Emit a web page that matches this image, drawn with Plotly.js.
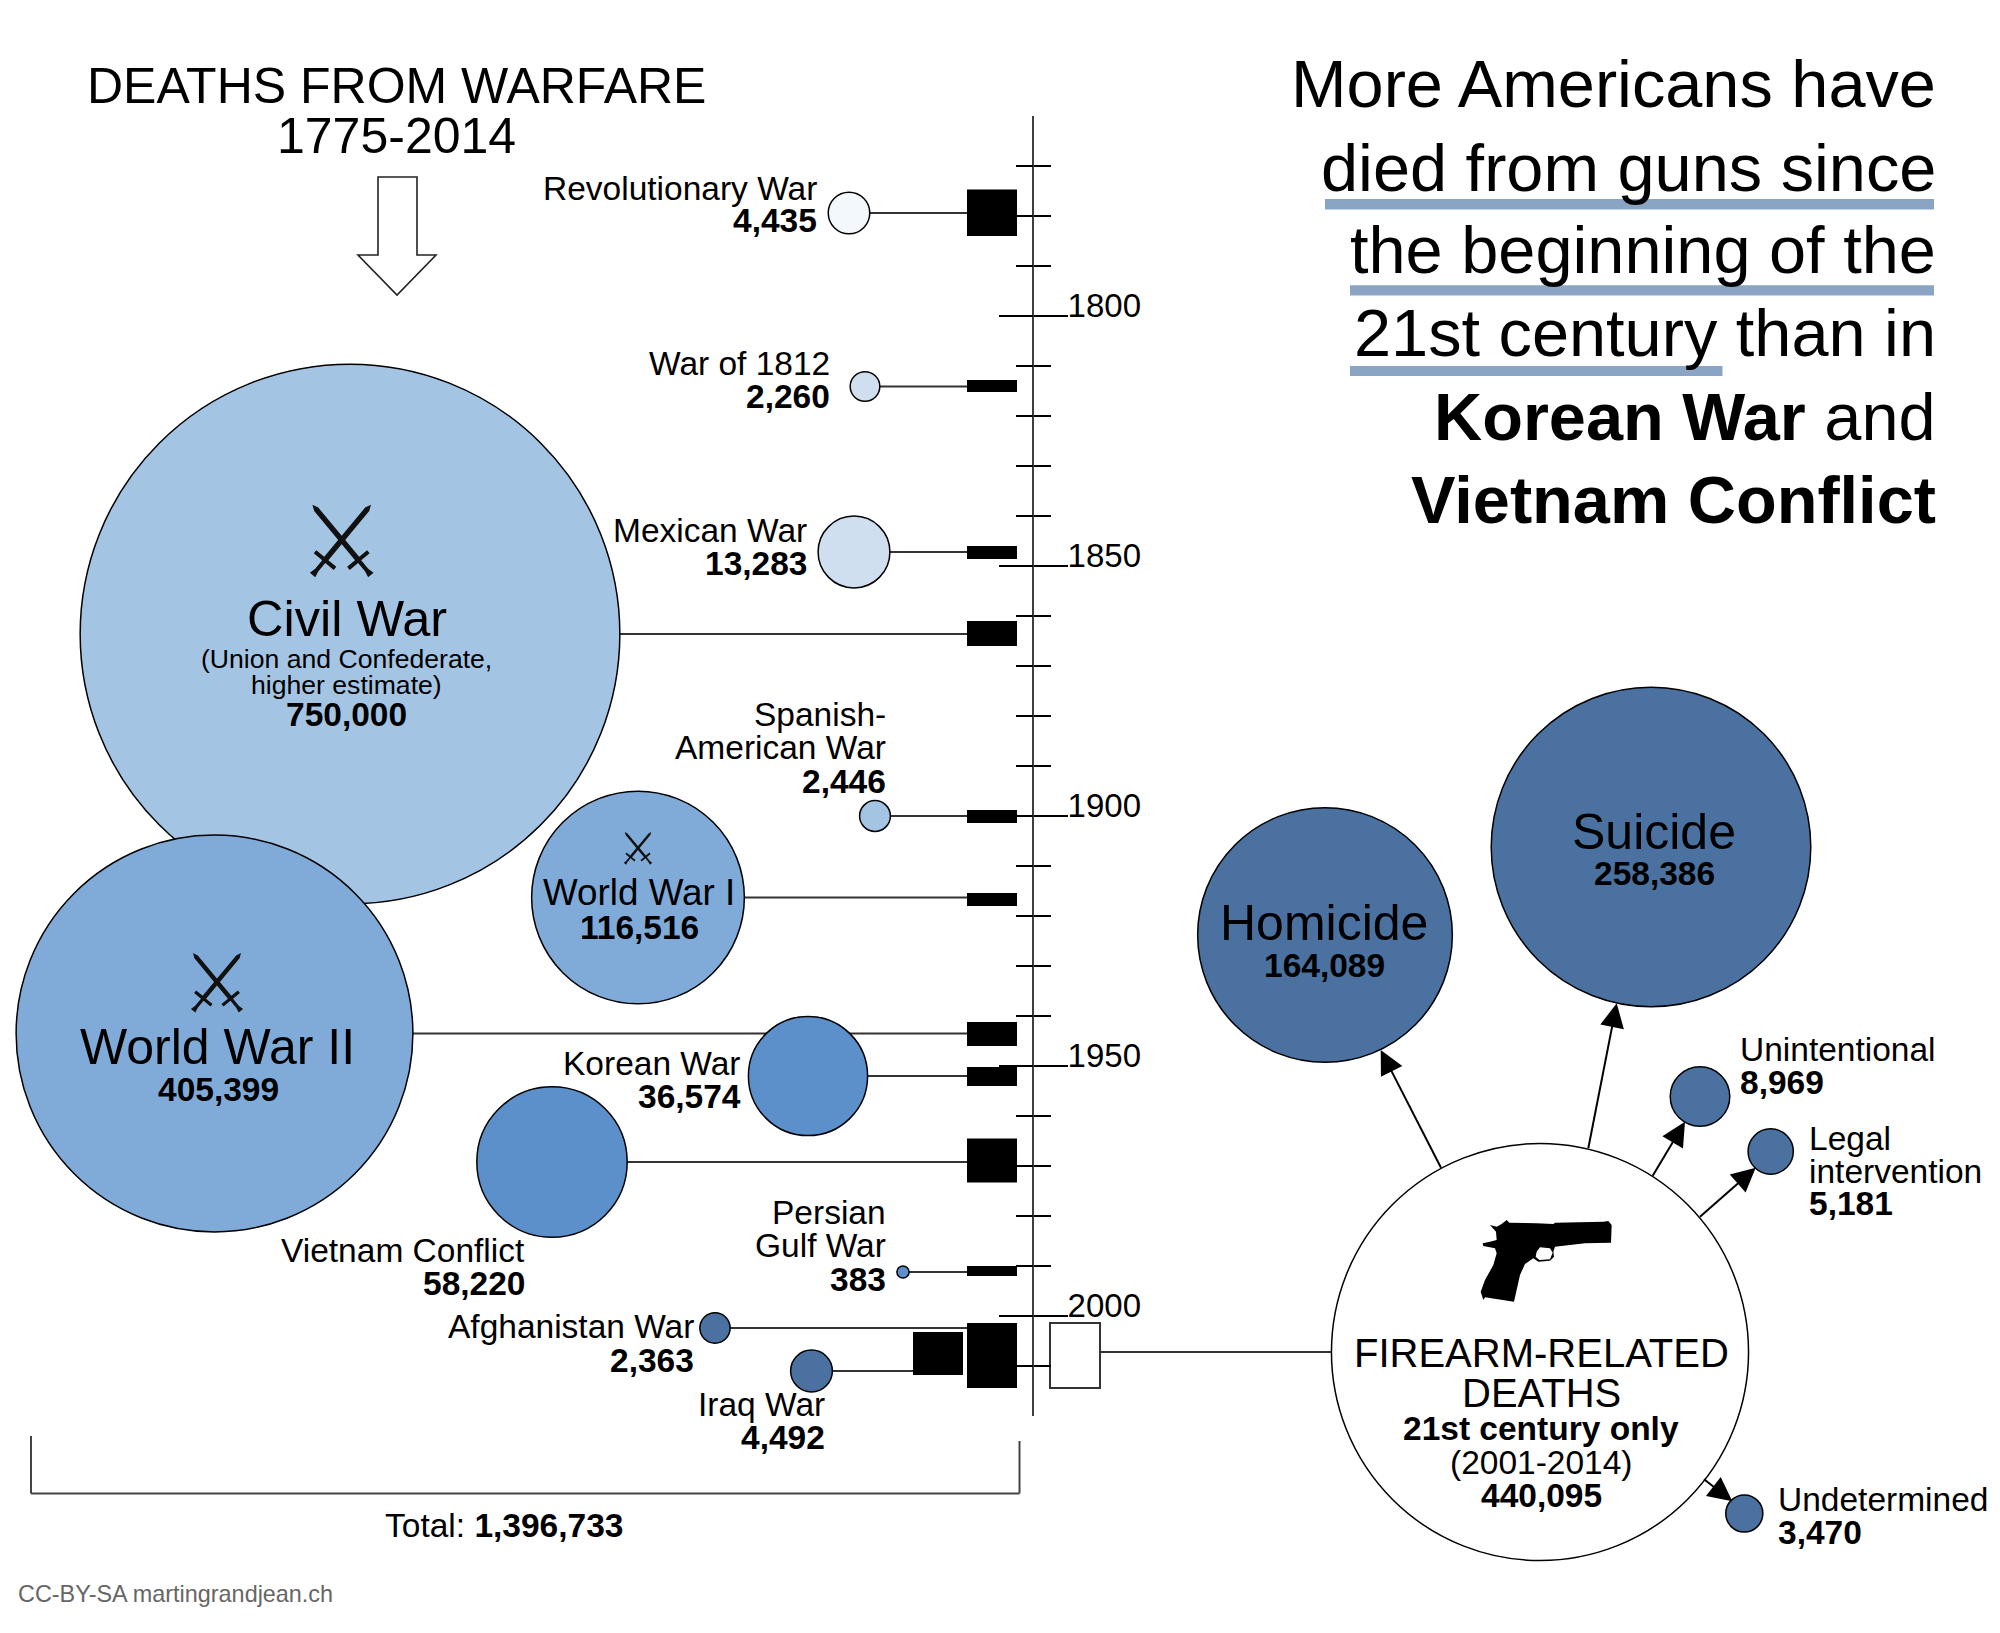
<!DOCTYPE html>
<html><head><meta charset="utf-8">
<script src="https://cdn.plot.ly/plotly-3.0.1.min.js"></script>
<style>html,body{margin:0;padding:0;background:#fff}#chart{width:2000px;height:1633px}</style>
</head><body><div id="chart"></div>
<script>
// ---------- DATA ----------
const warNames = ["Revolutionary War","War of 1812","Mexican War","Civil War","Spanish-American War","World War I","World War II","Korean War","Vietnam Conflict","Persian Gulf War","Afghanistan War","Iraq War"];
const warDeaths = [4435,2260,13283,750000,2446,116516,405399,36574,58220,383,2363,4492];
const warStart = [1774.7,1812.8,1846,1861,1898.8,1915.4,1941.2,1950.2,1964.5,1990,2001.4,2003.2];
const warEnd   = [1784,1815.2,1848.6,1866,1901.4,1918,1946,1954,1973.3,1992,2014.4,2011.8];
const firearmCauses = ["Homicide","Suicide","Unintentional","Legal intervention","Undetermined"];
const firearmDeaths = [164089,258386,8969,5181,3470];
const firearmTotal = 440095;
const firearmStart = 2001.4, firearmEnd = 2014.4;
const warTotal = 1396733;
const majorYears = [1800,1850,1900,1950,2000];
const minorYears = [1770,1780,1790,1810,1820,1830,1840,1860,1870,1880,1890,1910,1920,1930,1940,1960,1970,1980,1990,2010];

// ---------- LAYOUT OF THE DIAGRAM ----------
const W = 2000, H = 1633;
const yearRange = [2063.4,1736.8];            // pixel 1633 .. pixel 0
const warFill = ["#f3f8fc","#cfdff0","#cfdff0","#a4c4e4","#a4c4e4","#80abd8","#80abd8","#5c90cb","#5c90cb","#5c90cb","#4a719f","#4a719f"];
const warBubbleX = [849,865,854,350,875,638,214.5,808,552,903,715,811.5];
const warBubbleYear = [1779.4,1814.1,1847.2,1863.6,1900,1916.3,1943.5,1952,1969.2,1991.2,2002.4,2011];
const warBarX = [992,992,992,992,992,992,992,992,992,992,992,938];
const causeBubbleX = [1325,1651,1700,1770.7,1744.3];
const causeBubbleYear = [1923.8,1906.2,1956.1,1967.1,2039.5];
const hubX = 1540, hubYear = 2007.2;
const warSizeRef = 5.15, gunSizeRef = 5.06;

const fmt = v => v.toLocaleString('en-US');
const fy = p => 1 - p / H;

// ---------- TEXT ----------
const F = "Liberation Sans";
const S = 33.5;
const annotations = [];
function T(text, x, base, size, anchor, color){
  annotations.push({text, x: x / W, y: fy(base - 0.35 * size), xref:'paper', yref:'paper',
    xanchor: anchor || 'center', yanchor:'middle', showarrow:false, borderpad:0, borderwidth:0,
    font:{family:F, size, color: color || '#000'}});
}
const b = s => '<b>' + s + '</b>';
T("DEATHS FROM WARFARE",396,103.5,50);
T("1775-2014",396,153.5,50);
const RT = 1936;
T("More Americans have",RT,107,66.7,'right');
T("died from guns since",RT,191,66.7,'right');
T("the beginning of the",RT,273.5,66.7,'right');
T("21st century than in",RT,356.5,66.7,'right');
T(b("Korean War")+" and",RT,440.5,66.7,'right');
T(b("Vietnam Conflict"),RT,523.5,66.7,'right');

T(warNames[0],817,200,S,'right');  T(b(fmt(warDeaths[0])),817,232.5,S,'right');
T(warNames[1],830,375.5,S,'right');  T(b(fmt(warDeaths[1])),830,408,S,'right');
T(warNames[2],807,542,S,'right');  T(b(fmt(warDeaths[2])),807,575,S,'right');
T(warNames[3],347,636,50.5);
T("(Union and Confederate,",346,668,26.6);
T("higher estimate)",346,694,26.6);
T(b(fmt(warDeaths[3])),346,726,S);
T("Spanish-",886,726,S,'right'); T("American War",886,759,S,'right'); T(b(fmt(warDeaths[4])),886,793,S,'right');
T(warNames[5],639,905.5,36.8); T(b(fmt(warDeaths[5])),639,939,S);
T(warNames[6],217,1064,50); T(b(fmt(warDeaths[6])),218,1101,S);
T(warNames[7],741,1074.8,S,'right'); T(b(fmt(warDeaths[7])),741,1107.8,S,'right');
T(warNames[8],524.5,1262,S,'right'); T(b(fmt(warDeaths[8])),524.5,1295,S,'right');
T("Persian",886,1224.5,S,'right'); T("Gulf War",886,1257.5,S,'right'); T(b(fmt(warDeaths[9])),886,1291,S,'right');
T(warNames[10],694,1338,S,'right'); T(b(fmt(warDeaths[10])),694,1372,S,'right');
T(warNames[11],825,1416,S,'right'); T(b(fmt(warDeaths[11])),825,1449,S,'right');
T("Total: "+b(fmt(warTotal)),504,1537,S);
T("CC-BY-SA martingrandjean.ch",18,1602,23.4,'left','#666666');

T(firearmCauses[0],1324,940.5,50); T(b(fmt(firearmDeaths[0])),1324,977,S);
T(firearmCauses[1],1654,849,50); T(b(fmt(firearmDeaths[1])),1654,885,S);
T(firearmCauses[2],1740,1061,S,'left'); T(b(fmt(firearmDeaths[2])),1740,1094,S,'left');
T("Legal",1808.7,1150,S,'left'); T("intervention",1808.7,1183,S,'left'); T(b(fmt(firearmDeaths[3])),1808.7,1215.5,S,'left');
T(firearmCauses[4],1778,1511.5,S,'left'); T(b(fmt(firearmDeaths[4])),1778,1544.5,S,'left');
T("FIREARM-RELATED",1541,1367,40);
T("DEATHS",1541,1406.5,40);
T(b("21st century only"),1541,1440,S);
T("(2001-2014)",1541,1474,S);
T(b(fmt(firearmTotal)),1541,1507,S);

// ---------- DECORATION (paths in page pixels) ----------
const shapes = [];
function P(points, fill, extra){
  const d = points.map((p,i)=>(i?'L':'M')+(p[0]/W).toFixed(5)+','+fy(p[1]).toFixed(5)).join(' ')+' Z';
  shapes.push(Object.assign({type:'path',xref:'paper',yref:'paper',path:d,fillcolor:fill,line:{width:0}},extra||{}));
}
function R(x0,y0,x1,y1,fill){ P([[x0,y0],[x1,y0],[x1,y1],[x0,y1]],fill,{layer:'below'}); }
function L(x0,y0,x1,y1,w,color){
  shapes.push({type:'line',xref:'paper',yref:'paper',x0:x0/W,x1:x1/W,y0:fy(y0),y1:fy(y1),line:{width:w,color}});
}
// underlines
R(1325,199,1934,209.4,"#8aa5c4");
R(1350,285.2,1934,295.5,"#8aa5c4");
R(1350,366,1722.5,376,"#8aa5c4");
// hollow arrow below the left title
P([[378,177],[417,177],[417,255],[436,255],[397,295],[358,255],[378,255]],"#ffffff",{line:{width:1.6,color:"#222"}});
// bracket
L(31,1436,31,1493.5,2,"#444"); L(31,1493.5,1019.5,1493.5,2,"#444"); L(1019.5,1493.5,1019.5,1441,2,"#444");
// crossed swords
const sword = [[0,0],[6,-2.7],[70,-2.7],[70,-13],[74,-13],[74,-2],[85,-2],[91.5,-3.5],[91.5,3.5],[85,2],[74,2],[74,13],[70,13],[70,2.7],[6,2.7]];
function swords(cx,cy,s){
  [[29.3,-35.3],[-29.3,-35.3]].forEach(t=>{
    const len = Math.hypot(t[0],t[1]), ux=-t[0]/len, uy=-t[1]/len, vx=-uy, vy=ux;
    P(sword.map(p=>[cx+s*(t[0]+p[0]*ux+p[1]*vx), cy+s*(t[1]+p[0]*uy+p[1]*vy)]),"#111");
  });
}
swords(341.7,540,1); swords(217,982,0.82); swords(638,848,0.45);
// pistol
const pz = [[60,45],[80,50],[95,42],[110,30],[118,38],[200,40],[250,42],[255,38],[400,35],[415,33],[425,45],[423,98],[345,100],[255,110],[250,125],[252,140],[240,152],[205,155],[190,145],[165,162],[150,195],[132,275],[45,262],[40,270],[32,245],[45,210],[70,165],[80,130],[75,115],[40,108],[38,100],[60,95],[80,90],[78,65]];
const ph = [[200,125],[210,112],[240,115],[248,128],[240,148],[208,150],[197,140]];
const gun = p => [1470+p[0]/3, 1210+p[1]/3];
P(pz.map(gun),"#000");
P(ph.map(gun),"#fff");
// firearm arrows
const arrows = [[1441,1167.7,1380.7,1050],[1588.3,1148.3,1616.7,1003.3],[1652.7,1175.7,1685,1121.7],[1700,1216.7,1755.7,1167.7],[1704,1479.3,1732.3,1501.3]];
arrows.forEach(a=>{
  const dx=a[2]-a[0], dy=a[3]-a[1], n=Math.hypot(dx,dy), ux=dx/n, uy=dy/n, len=24, hw=12;
  L(a[0],a[1],a[2]-ux*len*0.8,a[3]-uy*len*0.8,2,"#000");
  P([[a[2],a[3]],[a[2]-ux*len-uy*hw,a[3]-uy*len+ux*hw],[a[2]-ux*len+uy*hw,a[3]-uy*len-ux*hw]],"#000");
});

// ---------- TRACES ----------
const connX = [], connY = [];
warNames.forEach((_,i)=>{ connX.push(warBubbleX[i],warBarX[i]-25,null); connY.push(warBubbleYear[i],warBubbleYear[i],null); });
connX.push(hubX,1100); connY.push(hubYear,hubYear);

const traces = [
  {type:'scatter',mode:'lines',x:[1033,1033],y:[1760,2020],yaxis:'y2',line:{color:'#000',width:1.5},hoverinfo:'skip'},
  {type:'scatter',mode:'lines',x:connX,y:connY,line:{color:'#333',width:2},connectgaps:false,hoverinfo:'skip'},
  {type:'bar',x:warBarX,base:warStart,y:warEnd.map((e,i)=>e-warStart[i]),width:50,marker:{color:'#000',line:{width:0}},hoverinfo:'skip'},
  {type:'bar',x:[1075],base:[firearmStart],y:[firearmEnd-firearmStart],width:50,marker:{color:'#fff',line:{width:2,color:'#333'}},hoverinfo:'skip'},
  {type:'scatter',mode:'markers',x:warBubbleX,y:warBubbleYear,cliponaxis:false,
    marker:{size:warDeaths,sizemode:'area',sizeref:warSizeRef,color:warFill,opacity:1,line:{color:'#000',width:1.5}},hoverinfo:'skip'},
  {type:'scatter',mode:'markers',x:causeBubbleX.concat([hubX]),y:causeBubbleYear.concat([hubYear]),cliponaxis:false,
    marker:{size:firearmDeaths.concat([firearmTotal]),sizemode:'area',sizeref:gunSizeRef,
      color:["#4a719f","#4a719f","#4a719f","#4a719f","#4a719f","#ffffff"],opacity:1,line:{color:'#000',width:1.5}},hoverinfo:'skip'}
];

const yCommon = {range:yearRange,autorange:false,showgrid:false,zeroline:false,showline:false,
  anchor:'free',position:1033/W,ticks:'outside',ticklen:34,tickwidth:1.3,tickcolor:'#000',
  tickmode:'array',tickvals:majorYears,
  minor:{ticks:'outside',ticklen:17,tickwidth:1.3,tickcolor:'#000',tickmode:'array',tickvals:minorYears,showgrid:false},
  fixedrange:true};

const layout = {
  width:W,height:H,margin:{l:0,r:0,t:0,b:0,pad:0},paper_bgcolor:'#fff',plot_bgcolor:'#fff',
  showlegend:false,barmode:'overlay',hovermode:false,
  xaxis:{range:[0,W],autorange:false,visible:false,fixedrange:true},
  yaxis:Object.assign({},yCommon,{side:'right',ticktext:majorYears.map(String),
    tickfont:{family:F,size:33,color:'#000'},ticklabelshift:11,ticklabelstandoff:-7}),
  yaxis2:Object.assign({},yCommon,{side:'left',overlaying:'y',showticklabels:false}),
  annotations,shapes
};
Plotly.newPlot('chart',traces,layout,{staticPlot:true,displayModeBar:false});
</script></body></html>
